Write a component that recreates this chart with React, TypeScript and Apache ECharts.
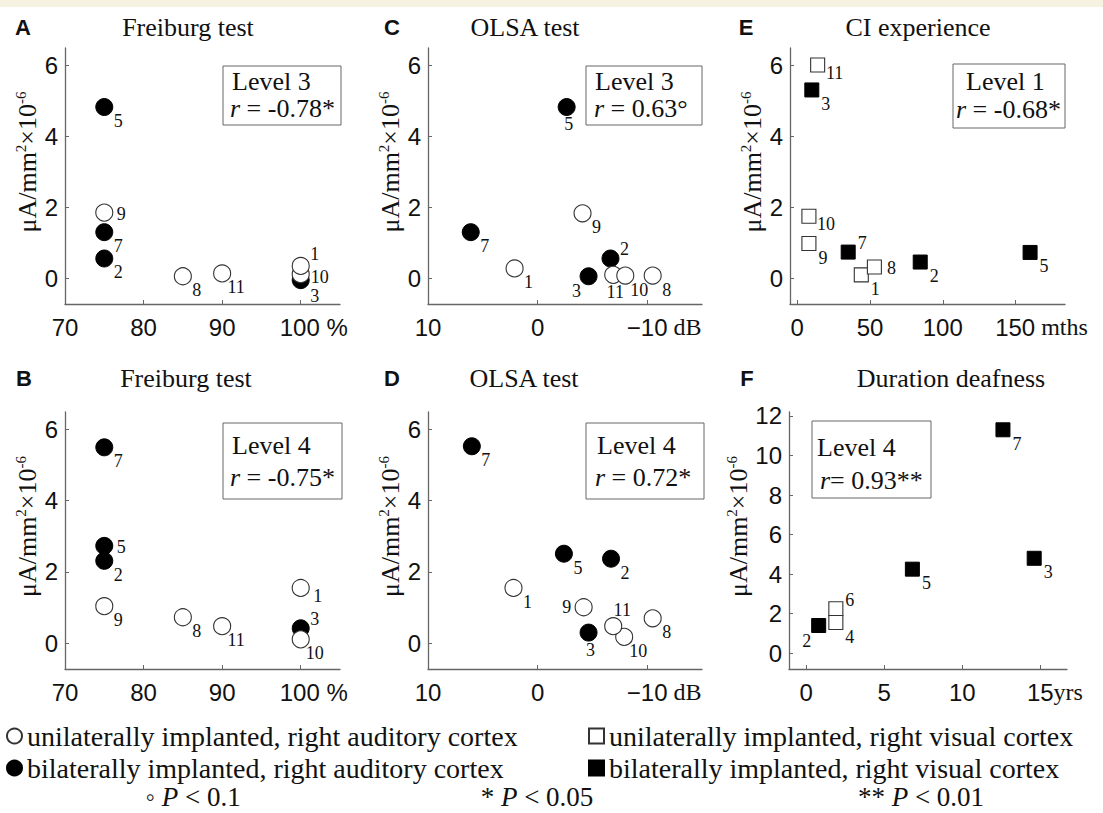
import React, { useEffect, useRef } from "react";
import * as echarts from "echarts";

const SERIF = "'Liberation Serif', 'Times New Roman', serif";
const SANS = "'Liberation Sans', Arial, sans-serif";
const INK = "#111";
const AXIS = "#666";

const NAME_UA = "unilaterally implanted, right auditory cortex";
const NAME_BA = "bilaterally implanted, right auditory cortex";
const NAME_UV = "unilaterally implanted, right visual cortex";
const NAME_BV = "bilaterally implanted, right visual cortex";

// ---- Panel A: Freiburg test, Level 3 ----
const aUniIds = ["9", "8", "11", "10", "1"];
const aUniX = [75, 85, 90, 100, 100];
const aUniY = [1.85, 0.06, 0.14, 0.12, 0.35];
const aBiIds = ["5", "7", "2", "3"];
const aBiX = [75, 75, 75, 100];
const aBiY = [4.82, 1.3, 0.56, -0.05];

// ---- Panel B: Freiburg test, Level 4 ----
const bUniIds = ["9", "8", "11", "1", "10"];
const bUniX = [75, 85, 90, 100, 100];
const bUniY = [1.04, 0.73, 0.48, 1.55, 0.11];
const bBiIds = ["7", "5", "2", "3"];
const bBiX = [75, 75, 75, 100];
const bBiY = [5.49, 2.73, 2.31, 0.42];

// ---- Panel C: OLSA test, Level 3 ----
const cUniIds = ["1", "9", "11", "10", "8"];
const cUniX = [2.1, -4.1, -6.9, -8.0, -10.5];
const cUniY = [0.28, 1.83, 0.1, 0.08, 0.08];
const cBiIds = ["7", "5", "2", "3"];
const cBiX = [6.1, -2.65, -6.65, -4.65];
const cBiY = [1.3, 4.82, 0.56, 0.06];

// ---- Panel D: OLSA test, Level 4 ----
const dUniIds = ["1", "9", "10", "11", "8"];
const dUniX = [2.2, -4.2, -7.9, -6.9, -10.5];
const dUniY = [1.55, 1.01, 0.18, 0.48, 0.7];
const dBiIds = ["7", "5", "2", "3"];
const dBiX = [6.0, -2.4, -6.7, -4.65];
const dBiY = [5.52, 2.51, 2.37, 0.3];

// ---- Panel E: CI experience, Level 1 ----
const eUniIds = ["11", "10", "9", "1", "8"];
const eUniX = [14, 8, 8, 44, 53];
const eUniY = [6.0, 1.75, 0.98, 0.1, 0.32];
const eBiIds = ["3", "7", "2", "5"];
const eBiX = [10, 35, 84.5, 160];
const eBiY = [5.3, 0.74, 0.46, 0.73];

// ---- Panel F: Duration deafness, Level 4 ----
const fUniIds = ["6", "4"];
const fUniX = [1.9, 1.9];
const fUniY = [2.25, 1.55];
const fBiIds = ["2", "5", "7", "3"];
const fBiX = [0.8, 6.8, 12.6, 14.6];
const fBiY = [1.4, 4.25, 11.3, 4.8];

// tick values
const ticksFreiburg = [70, 80, 90, 100];
const ticksOlsa = [10, 0, -10];
const ticksExp = [0, 50, 100, 150];
const ticksDeaf = [0, 5, 10, 15];
const ticksY6 = [0, 2, 4, 6];
const ticksY12 = [0, 2, 4, 6, 8, 10, 12];

// label placement of point numbers (annotation layout)
const OFFSETS: Record<string, [number, number]> = {
  br: [14, 14],
  rb: [17, 8],
  r: [17, 1],
  r2: [19, 3],
  tr: [14, -9],
  tr2: [14, -12],
  br2: [14, 16],
  b: [2, 17],
  bl: [-12, 15],
  l: [-17, 0],
  t: [9, -16],
};

const placeA: Record<string, string> = { "9": "r", "8": "br", "11": "br", "10": "r2", "1": "tr2", "5": "br", "7": "br", "2": "br", "3": "br2" };
const placeB: Record<string, string> = { "9": "br", "8": "br", "11": "br", "1": "rb", "10": "br", "7": "br", "5": "r", "2": "br", "3": "tr" };
const placeC: Record<string, string> = { "1": "br", "9": "br", "11": "b", "10": "br", "8": "br", "7": "br", "5": "b", "2": "tr", "3": "bl" };
const placeD: Record<string, string> = { "1": "br", "9": "l", "10": "br", "11": "t", "8": "br", "7": "br", "5": "br", "2": "br", "3": "b" };
const placeE: Record<string, string> = { "11": "rb", "10": "rb", "9": "br", "1": "br", "8": "r", "3": "br", "7": "tr", "2": "br", "5": "br" };
const placeF: Record<string, string> = { "6": "tr", "4": "br", "2": "bl", "5": "br", "7": "br", "3": "br" };

type Panel = {
  letter: string;
  title: string;
  grid: { left: number; top: number; width: number; height: number };
  xMin: number;
  xMax: number;
  inverse: boolean;
  xTicks: number[];
  unitTick: number;
  unit: string;
  unitFont: string;
  unitPad: number;
  yMin: number;
  yMax: number;
  yTicks: number[];
  square: boolean;
  uniIds: string[];
  uniX: number[];
  uniY: number[];
  biIds: string[];
  biX: number[];
  biY: number[];
  place: Record<string, string>;
  letterX: number;
  titleX: number;
  headY: number;
  box: { x: number; y: number; w: number; h: number; tx1: number; tx2: number; l1: number; l2: number };
  level: string;
  rText: string;
  rSep: string;
};

const panels: Panel[] = [
  {
    letter: "A", title: "Freiburg test",
    grid: { left: 65, top: 48, width: 275, height: 256 },
    xMin: 70, xMax: 105, inverse: false, xTicks: ticksFreiburg, unitTick: 100, unit: " %", unitFont: SANS, unitPad: 26,
    yMin: -0.72, yMax: 6.48, yTicks: ticksY6, square: false,
    uniIds: aUniIds, uniX: aUniX, uniY: aUniY, biIds: aBiIds, biX: aBiX, biY: aBiY, place: placeA,
    letterX: 23, titleX: 188, headY: 27,
    box: { x: 223, y: 66, w: 118, h: 59, tx1: 232, tx2: 230, l1: 81, l2: 108 },
    level: "Level 3", rText: "-0.78*", rSep: " = ",
  },
  {
    letter: "C", title: "OLSA test",
    grid: { left: 428, top: 48, width: 274, height: 256 },
    xMin: -15, xMax: 10, inverse: true, xTicks: ticksOlsa, unitTick: -10, unit: " dB", unitFont: SERIF, unitPad: 34,
    yMin: -0.72, yMax: 6.48, yTicks: ticksY6, square: false,
    uniIds: cUniIds, uniX: cUniX, uniY: cUniY, biIds: cBiIds, biX: cBiX, biY: cBiY, place: placeC,
    letterX: 392, titleX: 525, headY: 27,
    box: { x: 586, y: 66, w: 116, h: 59, tx1: 595, tx2: 594, l1: 81, l2: 108 },
    level: "Level 3", rText: "0.63°", rSep: " = ",
  },
  {
    letter: "E", title: "CI experience",
    grid: { left: 790, top: 48, width: 275, height: 256 },
    xMin: -5, xMax: 184, inverse: false, xTicks: ticksExp, unitTick: 150, unit: " mths", unitFont: SERIF, unitPad: 52,
    yMin: -0.72, yMax: 6.48, yTicks: ticksY6, square: true,
    uniIds: eUniIds, uniX: eUniX, uniY: eUniY, biIds: eBiIds, biX: eBiX, biY: eBiY, place: placeE,
    letterX: 746, titleX: 918, headY: 27,
    box: { x: 953, y: 64, w: 112, h: 64, tx1: 966, tx2: 956, l1: 81, l2: 109 },
    level: "Level 1", rText: "-0.68*", rSep: " = ",
  },
  {
    letter: "B", title: "Freiburg test",
    grid: { left: 65, top: 412, width: 275, height: 257 },
    xMin: 70, xMax: 105, inverse: false, xTicks: ticksFreiburg, unitTick: 100, unit: " %", unitFont: SANS, unitPad: 26,
    yMin: -0.72, yMax: 6.48, yTicks: ticksY6, square: false,
    uniIds: bUniIds, uniX: bUniX, uniY: bUniY, biIds: bBiIds, biX: bBiX, biY: bBiY, place: placeB,
    letterX: 24, titleX: 186, headY: 378,
    box: { x: 223, y: 423, w: 119, h: 76, tx1: 232, tx2: 230, l1: 445, l2: 477 },
    level: "Level 4", rText: "-0.75*", rSep: " = ",
  },
  {
    letter: "D", title: "OLSA test",
    grid: { left: 428, top: 412, width: 274, height: 257 },
    xMin: -15, xMax: 10, inverse: true, xTicks: ticksOlsa, unitTick: -10, unit: " dB", unitFont: SERIF, unitPad: 34,
    yMin: -0.72, yMax: 6.48, yTicks: ticksY6, square: false,
    uniIds: dUniIds, uniX: dUniX, uniY: dUniY, biIds: dBiIds, biX: dBiX, biY: dBiY, place: placeD,
    letterX: 392, titleX: 524, headY: 378,
    box: { x: 586, y: 423, w: 118, h: 76, tx1: 597, tx2: 595, l1: 445, l2: 477 },
    level: "Level 4", rText: "0.72*", rSep: " = ",
  },
  {
    letter: "F", title: "Duration deafness",
    grid: { left: 789, top: 412, width: 278, height: 257 },
    xMin: -1.1, xMax: 16.7, inverse: false, xTicks: ticksDeaf, unitTick: 15, unit: "yrs", unitFont: SERIF, unitPad: 29,
    yMin: -0.8, yMax: 12.2, yTicks: ticksY12, square: true,
    uniIds: fUniIds, uniX: fUniX, uniY: fUniY, biIds: fBiIds, biX: fBiX, biY: fBiY, place: placeF,
    letterX: 747, titleX: 951, headY: 378,
    box: { x: 812, y: 421, w: 119, h: 77, tx1: 817, tx2: 820, l1: 447, l2: 480 },
    level: "Level 4", rText: "0.93**", rSep: "= ",
  },
];

function fmtNum(v: number): string {
  return v < 0 ? "\u2212" + Math.abs(v) : String(v);
}

function buildOption() {
  const grids: any[] = [];
  const xAxes: any[] = [];
  const yAxes: any[] = [];
  const series: any[] = [];
  const graphics: any[] = [];

  graphics.push({
    type: "rect",
    shape: { x: 0, y: 0, width: 1103, height: 7 },
    style: { fill: "#f6f2e2" },
    silent: true,
  });

  panels.forEach((p, i) => {
    grids.push({ ...p.grid, containLabel: false });
    xAxes.push({
      type: "value",
      gridIndex: i,
      min: p.xMin,
      max: p.xMax,
      inverse: p.inverse,
      splitLine: { show: false },
      axisLine: { show: true, onZero: false, lineStyle: { color: AXIS, width: 1.3 } },
      axisTick: { show: true, inside: true, length: 4, customValues: p.xTicks, lineStyle: { color: AXIS } },
      axisLabel: {
        show: true,
        customValues: p.xTicks,
        margin: 11,
        color: INK,
        fontFamily: SANS,
        fontSize: 24,
        formatter: (v: number) =>
          v === p.unitTick
            ? `{p|}{v|${fmtNum(v)}}{u|${p.unit}}`
            : `{v|${fmtNum(v)}}`,
        rich: {
          v: { fontFamily: SANS, fontSize: 24, color: INK },
          u: { fontFamily: p.unitFont, fontSize: 24, color: INK },
          p: { width: p.unitPad },
        },
      },
    });
    yAxes.push({
      type: "value",
      gridIndex: i,
      min: p.yMin,
      max: p.yMax,
      splitLine: { show: false },
      axisLine: { show: true, onZero: false, lineStyle: { color: AXIS, width: 1.3 } },
      axisTick: { show: true, inside: true, length: 4, customValues: p.yTicks, lineStyle: { color: AXIS } },
      axisLabel: {
        show: true,
        customValues: p.yTicks,
        margin: 7,
        color: INK,
        fontFamily: SANS,
        fontSize: 24,
      },
      name: "{a|\u03bcA/mm}{s|2}{a|\u00d710}{s|-6}",
      nameLocation: "middle",
      nameRotate: 90,
      nameGap: 20,
      nameTextStyle: {
        padding: [0, 0, 0, 28],
        rich: {
          a: { fontFamily: SERIF, fontSize: 26, color: INK, lineHeight: 28 },
          s: { fontFamily: SERIF, fontSize: 15, color: INK, lineHeight: 15, verticalAlign: "top" },
        },
      },
    });

    const mk = (ids: string[], xs: number[], ys: number[]) =>
      ids.map((id, k) => ({
        name: id,
        value: [xs[k], ys[k]],
        label: { offset: OFFSETS[p.place[id]] || OFFSETS.br },
      }));

    const labelCfg = {
      show: true,
      position: "inside",
      formatter: (d: any) => d.name,
      fontFamily: SERIF,
      fontSize: 18,
      lineHeight: 17,
      color: INK,
    };

    series.push({
      type: "scatter",
      name: p.square ? NAME_BV : NAME_BA,
      xAxisIndex: i,
      yAxisIndex: i,
      symbol: p.square ? "rect" : "circle",
      symbolSize: p.square ? 14 : 17,
      itemStyle: { color: "#000", borderColor: "#000", borderWidth: 1, opacity: 1 },
      label: labelCfg,
      data: mk(p.biIds, p.biX, p.biY),
      z: 2,
    });
    series.push({
      type: "scatter",
      name: p.square ? NAME_UV : NAME_UA,
      xAxisIndex: i,
      yAxisIndex: i,
      symbol: p.square ? "rect" : "circle",
      symbolSize: p.square ? 14 : 17,
      itemStyle: { color: "#fff", borderColor: "#333", borderWidth: 1.1, opacity: 1 },
      label: labelCfg,
      data: mk(p.uniIds, p.uniX, p.uniY),
      z: 3,
    });

    // panel letter and title
    graphics.push({
      type: "text",
      x: p.letterX,
      y: p.headY,
      style: {
        text: p.letter,
        fontFamily: SANS,
        fontWeight: "bold",
        fontSize: 22,
        fill: INK,
        align: "center",
        verticalAlign: "middle",
        textAlign: "center",
        textVerticalAlign: "middle",
      },
    });
    graphics.push({
      type: "text",
      x: p.titleX,
      y: p.headY,
      style: {
        text: p.title,
        fontFamily: SERIF,
        fontSize: 26,
        fill: INK,
        align: "center",
        verticalAlign: "middle",
        textAlign: "center",
        textVerticalAlign: "middle",
      },
    });
    // correlation box
    graphics.push({
      type: "rect",
      shape: { x: p.box.x, y: p.box.y, width: p.box.w, height: p.box.h },
      style: { fill: "#fff", stroke: "#666", lineWidth: 1 },
      z: 10,
    });
    graphics.push({
      type: "text",
      x: p.box.tx1,
      y: p.box.l1,
      z: 11,
      style: {
        text: p.level,
        fontFamily: SERIF,
        fontSize: 26,
        lineHeight: 23,
        fill: INK,
        align: "left",
        verticalAlign: "middle",
        textAlign: "left",
        textVerticalAlign: "middle",
      },
    });
    graphics.push({
      type: "text",
      x: p.box.tx2,
      y: p.box.l2,
      z: 11,
      style: {
        text: `{i|r}{n|${p.rSep}${p.rText}}`,
        align: "left",
        verticalAlign: "middle",
        textAlign: "left",
        textVerticalAlign: "middle",
        rich: {
          i: { fontFamily: SERIF, fontStyle: "italic", fontSize: 26, lineHeight: 23, fill: INK, color: INK },
          n: { fontFamily: SERIF, fontSize: 26, lineHeight: 23, fill: INK, color: INK },
        },
      },
    });
  });

  // significance legend row
  const sig = [
    { x: 193, t: "\u25e6 ", v: " < 0.1" },
    { x: 537, t: "* ", v: " < 0.05" },
    { x: 921, t: "** ", v: " < 0.01" },
  ];
  sig.forEach((s) => {
    graphics.push({
      type: "text",
      x: s.x,
      y: 797,
      style: {
        text: `{n|${s.t}}{i|P}{n|${s.v}}`,
        align: "center",
        verticalAlign: "middle",
        textAlign: "center",
        textVerticalAlign: "middle",
        rich: {
          i: { fontFamily: SERIF, fontStyle: "italic", fontSize: 27, lineHeight: 26, fill: INK, color: INK },
          n: { fontFamily: SERIF, fontSize: 27, lineHeight: 26, fill: INK, color: INK },
        },
      },
    });
  });

  const legendBase = {
    orient: "horizontal",
    padding: 0,
    itemWidth: 15,
    itemHeight: 15,
    selectedMode: false,
    textStyle: { fontFamily: SERIF, fontSize: 28, color: INK, lineHeight: 28 },
  };

  const legends = [
    { ...legendBase, left: 6, top: 722, data: [{ name: NAME_UA, icon: "circle" }] },
    { ...legendBase, left: 6, top: 754, data: [{ name: NAME_BA, icon: "circle" }] },
    { ...legendBase, left: 588, top: 722, data: [{ name: NAME_UV, icon: "rect" }] },
    { ...legendBase, left: 588, top: 754, data: [{ name: NAME_BV, icon: "rect" }] },
  ];

  return {
    animation: false,
    backgroundColor: "#ffffff",
    grid: grids,
    xAxis: xAxes,
    yAxis: yAxes,
    series,
    legend: legends,
    graphic: graphics,
  };
}

export default function App() {
  const ref = useRef<HTMLDivElement>(null);
  useEffect(() => {
    if (!ref.current) return;
    const chart = echarts.init(ref.current, null, { renderer: "svg" });
    chart.setOption(buildOption() as any);
    return () => {
      chart.dispose();
    };
  }, []);
  return (
    <div
      ref={ref}
      style={{ position: "absolute", left: 0, top: 0, width: 1103, height: 813, background: "#fff" }}
    />
  );
}
